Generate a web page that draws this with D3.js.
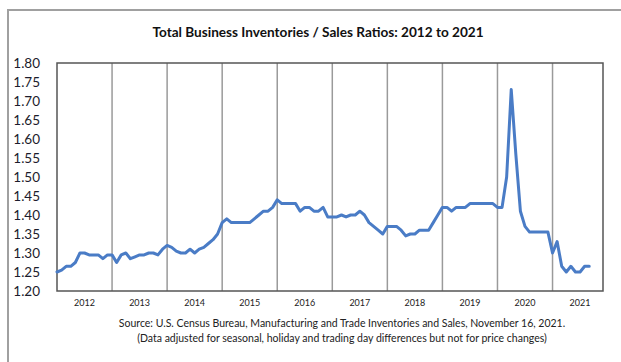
<!DOCTYPE html>
<html>
<head>
<meta charset="utf-8">
<script src="https://cdn.jsdelivr.net/npm/d3@7"></script>
<style>
  body { margin: 0; background: #fff; }
  svg { display: block; font-family: Lato, "Open Sans", sans-serif; }
</style>
</head>
<body>
<svg id="chart" width="621" height="362"></svg>
<script>
// year labels on the x axis
const years = [2012, 2013, 2014, 2015, 2016, 2017, 2018, 2019, 2020, 2021];
// y tick values
const yTicks = [1.20, 1.25, 1.30, 1.35, 1.40, 1.45, 1.50, 1.55, 1.60, 1.65, 1.70, 1.75, 1.80];
// monthly inventories/sales ratio, Jan 2012 .. Sep 2021
const ratios = [
  1.25, 1.255, 1.265, 1.265, 1.275, 1.30, 1.30, 1.295, 1.295, 1.295, 1.285, 1.295,
  1.295, 1.275, 1.295, 1.30, 1.285, 1.29, 1.295, 1.295, 1.30, 1.30, 1.295, 1.31,
  1.32, 1.315, 1.305, 1.30, 1.30, 1.31, 1.30, 1.31, 1.315, 1.325, 1.335, 1.35,
  1.38, 1.39, 1.38, 1.38, 1.38, 1.38, 1.38, 1.39, 1.40, 1.41, 1.41, 1.42,
  1.44, 1.43, 1.43, 1.43, 1.43, 1.41, 1.42, 1.42, 1.41, 1.41, 1.42, 1.395,
  1.395, 1.395, 1.40, 1.395, 1.40, 1.40, 1.41, 1.40, 1.38, 1.37, 1.36, 1.35,
  1.37, 1.37, 1.37, 1.36, 1.345, 1.35, 1.35, 1.36, 1.36, 1.36, 1.38, 1.40,
  1.42, 1.42, 1.41, 1.42, 1.42, 1.42, 1.43, 1.43, 1.43, 1.43, 1.43, 1.43,
  1.42, 1.42, 1.50, 1.73, 1.56, 1.41, 1.37, 1.355, 1.355, 1.355, 1.355, 1.355,
  1.30, 1.33, 1.265, 1.25, 1.265, 1.25, 1.25, 1.265, 1.265
];
const title = "Total Business Inventories / Sales Ratios: 2012 to 2021";
const sourceLines = [
  "Source: U.S. Census Bureau, Manufacturing and Trade Inventories and Sales, November 16, 2021.",
  "(Data adjusted for seasonal, holiday and trading day differences but not for price changes)"
];

const svg = d3.select("#chart");
const margin = {top: 63, right: 18, bottom: 71, left: 57};
const W = 621 - margin.left - margin.right;
const H = 362 - margin.top - margin.bottom;

// outer frame (only left/top visible in the crop)
svg.append("rect")
  .attr("x", 8).attr("y", 10).attr("width", 700).attr("height", 500)
  .attr("fill", "none").attr("stroke", "#a0a0a0").attr("stroke-width", 2);

svg.append("text")
  .attr("x", 318).attr("y", 37)
  .attr("text-anchor", "middle")
  .attr("font-weight", "bold").attr("font-size", 13.6).attr("fill", "#111")
  .text(title);

const g = svg.append("g").attr("transform", `translate(${margin.left},${margin.top})`);

const nMonths = years.length * 12;
const x = d3.scaleLinear().domain([0, nMonths - 1]).range([0, W]);
const y = d3.scaleLinear().domain([1.20, 1.80]).range([H, 0]);

// year separators at each January
g.append("g")
  .selectAll("line")
  .data(years.slice(1))
  .join("line")
  .attr("x1", (d, i) => x((i + 1) * 12)).attr("x2", (d, i) => x((i + 1) * 12))
  .attr("y1", 0).attr("y2", H)
  .attr("stroke", "#9a9a9a").attr("stroke-width", 1.5);

// plot frame
g.append("rect")
  .attr("width", W).attr("height", H)
  .attr("fill", "none").attr("stroke", "#555").attr("stroke-width", 1.5);

// y axis labels
const yAxis = g.append("g")
  .attr("transform", "translate(-14,0)")
  .call(d3.axisLeft(y).tickValues(yTicks).tickFormat(d3.format(".2f")).tickSize(0));
yAxis.select(".domain").remove();
yAxis.selectAll("text").attr("font-size", 13.5).attr("fill", "#1c1c2c")
  .attr("font-family", "Lato, sans-serif").attr("dx", 0);

// x axis year labels, centred in each year
g.append("g")
  .selectAll("text")
  .data(years)
  .join("text")
  .attr("x", (d, i) => x(i * 12 + 6))
  .attr("y", H + 15)
  .attr("text-anchor", "middle")
  .attr("font-size", 9).attr("fill", "#222")
  .text(d => d);

// the series
const line = d3.line()
  .x((d, i) => x(i))
  .y(d => y(d));

g.append("path")
  .datum(ratios)
  .attr("d", line)
  .attr("fill", "none")
  .attr("stroke", "#4a7cc6")
  .attr("stroke-width", 3)
  .attr("stroke-linejoin", "round")
  .attr("stroke-linecap", "round");

svg.append("g")
  .selectAll("text")
  .data(sourceLines)
  .join("text")
  .attr("x", 342)
  .attr("y", (d, i) => 327 + i * 15)
  .attr("text-anchor", "middle")
  .attr("font-size", 10.5).attr("fill", "#222")
  .text(d => d);
</script>
</body>
</html>
